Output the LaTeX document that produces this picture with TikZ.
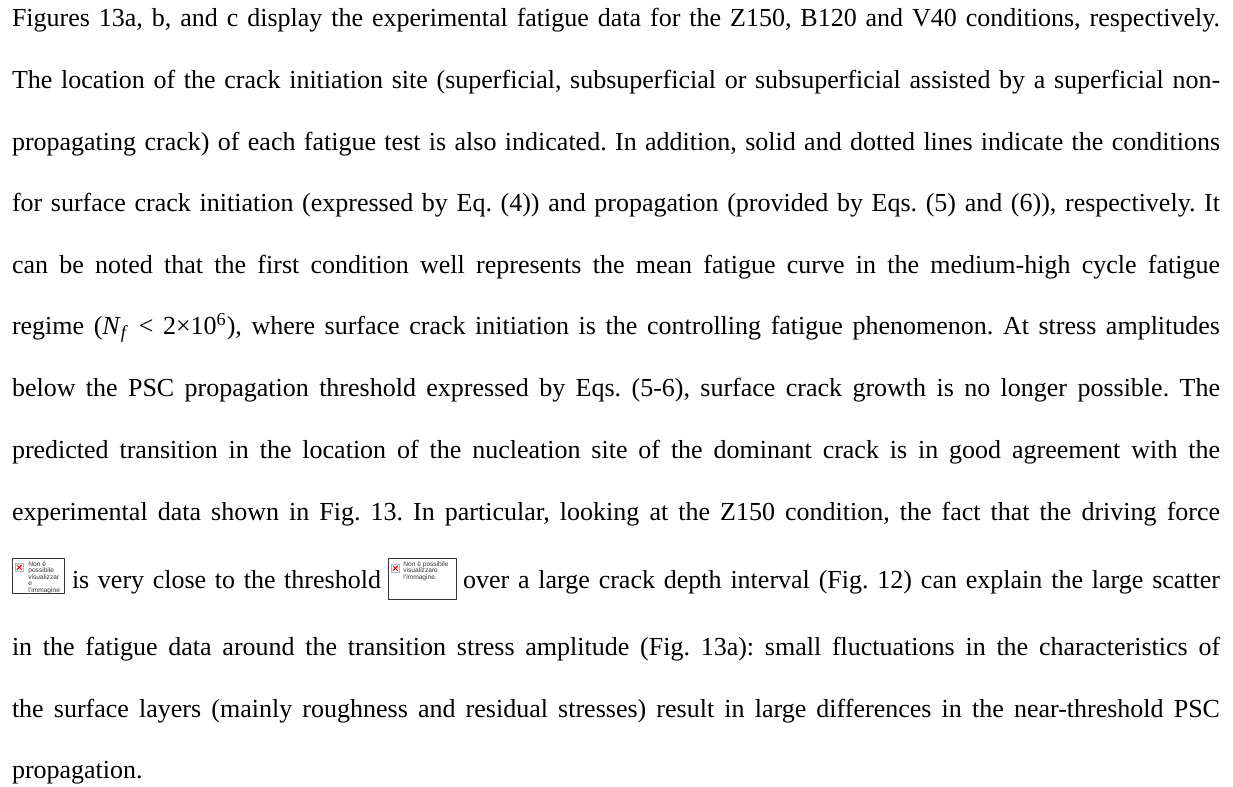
\documentclass[tikz,border=0pt]{standalone}
\usepackage{fontspec}
\setmainfont{Liberation Serif}
\newfontfamily\boxfont{Liberation Sans}
\frenchspacing
\begin{document}
\begin{tikzpicture}[x=0.5pt, y=-0.5pt, font=\fontsize{13}{15}\selectfont, line join=round, line cap=round,
	riga/.style={anchor=base west, inner sep=0pt, outer sep=0pt},
	nonvis/.style={draw=black!80, line width=0.45pt, fill=white, inner sep=0pt, anchor=north west},
	icona/.style={draw=black!30, line width=0.3pt, fill=white, minimum size=4pt, inner sep=0pt, anchor=north west},
	testobox/.style={anchor=north west, inner sep=0pt, align=left, text=black!80, font=\boxfont\fontsize{3.3}{3.25}\selectfont}]
	\useasboundingbox (0,0) rectangle (1233,787);
	% righe giustificate
	\foreach \n/\y/\t in {
		l1/26/{Figures 13a, b, and c display the experimental fatigue data for the Z150, B120 and V40 conditions, respectively.},
		l2/88/{The location of the crack initiation site (superficial, subsuperficial or subsuperficial assisted by a superficial non-},
		l3/150/{propagating crack) of each fatigue test is also indicated. In addition, solid and dotted lines indicate the conditions},
		l4/211/{for surface crack initiation (expressed by Eq. (4)) and propagation (provided by Eqs. (5) and (6)), respectively. It},
		l5/273/{can be noted that the first condition well represents the mean fatigue curve in the medium-high cycle fatigue},
		l6/334/{regime (\textit{N}\textsubscript{\textit{f}} < 2×10\textsuperscript{6}), where surface crack initiation is the controlling fatigue phenomenon. At stress amplitudes},
		l7/396/{below the PSC propagation threshold expressed by Eqs. (5-6), surface crack growth is no longer possible. The},
		l8/458/{predicted transition in the location of the nucleation site of the dominant crack is in good agreement with the},
		l9/520/{experimental data shown in Fig. 13. In particular, looking at the Z150 condition, the fact that the driving force},
		l11/655/{in the fatigue data around the transition stress amplitude (Fig. 13a): small fluctuations in the characteristics of},
		l12/717/{the surface layers (mainly roughness and residual stresses) result in large differences in the near-threshold PSC}}
	\node[riga] (\n) at (12,\y) {\makebox[604pt][s]{\t}};
	\node[riga] (l13) at (12,778) {propagation.};
	% riga con le immagini mancanti
	\node[nonvis, minimum width=26pt, minimum height=17.5pt] (b1) at (12,558) {};
	\node[icona] (x1) at ([shift={(3,5)}]b1.north west) {};
	\draw[red, line width=0.5pt] ([shift={(2,2)}]x1.north west) -- ([shift={(-2,-2)}]x1.south east)
		([shift={(2,-2)}]x1.south west) -- ([shift={(-2,2)}]x1.north east);
	\node[testobox] (t1) at ([shift={(16,3)}]b1.north west) {Non è\\possibile\\visualizzar\\e\\l’immagine\\.};
	\node[riga] (i1) at (72,588) {\makebox[154.5pt][s]{is very close to the threshold}};
	\node[nonvis, minimum width=34pt, minimum height=20.5pt] (b2) at (388,558) {};
	\node[icona] (x2) at ([shift={(3,6)}]b2.north west) {};
	\draw[red, line width=0.5pt] ([shift={(2,2)}]x2.north west) -- ([shift={(-2,-2)}]x2.south east)
		([shift={(2,-2)}]x2.south west) -- ([shift={(-2,2)}]x2.north east);
	\node[testobox] (t2) at ([shift={(15,3)}]b2.north west) {Non è possibile\\visualizzare\\l’immagine.};
	\node[riga] (i2) at (463,588) {\makebox[378.5pt][s]{over a large crack depth interval (Fig. 12) can explain the large scatter}};
\end{tikzpicture}
\end{document}
